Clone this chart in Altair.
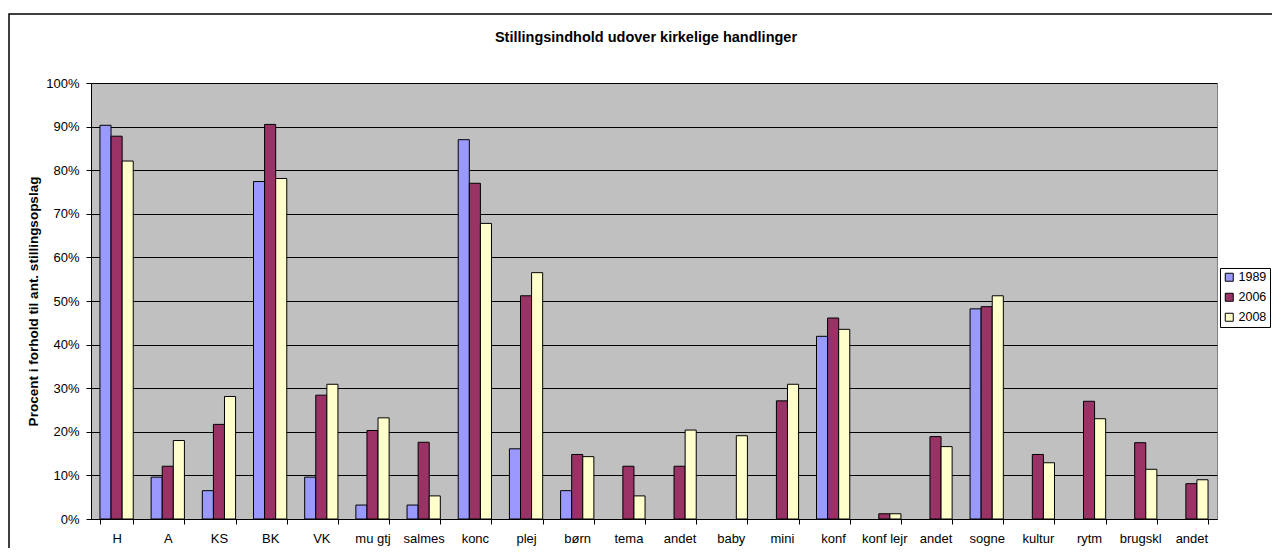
import altair as alt
import pandas as pd

categories = ["H", "A", "KS", "BK", "VK", "mu gtj", "salmes", "konc", "plej", "børn",
              "tema", "andet", "baby", "mini", "konf", "konf lejr", "andet", "sogne",
              "kultur", "rytm", "brugskl", "andet"]
years = ["1989", "2006", "2008"]
v1989 = [0.903, 0.096, 0.065, 0.774, 0.096, 0.032, 0.032, 0.870, 0.161, 0.065,
         None, None, None, None, 0.419, None, None, 0.482,
         None, None, None, None]
v2006 = [0.878, 0.121, 0.217, 0.905, 0.284, 0.203, 0.176, 0.770, 0.512, 0.148,
         0.121, 0.121, None, 0.271, 0.461, 0.012, 0.189, 0.487,
         0.148, 0.270, 0.175, 0.081]
v2008 = [0.821, 0.180, 0.281, 0.781, 0.309, 0.232, 0.053, 0.678, 0.565, 0.143,
         0.053, 0.204, 0.191, 0.309, 0.435, 0.012, 0.166, 0.512,
         0.129, 0.230, 0.114, 0.090]
colors = ["#9999FF", "#993366", "#FFFFCC"]
title_text = "Stillingsindhold udover kirkelige handlinger"

rows = []
for i, c in enumerate(categories):
    for y, vals in zip(years, [v1989, v2006, v2008]):
        if vals[i] is not None:
            rows.append({"idx": i, "label": c, "year": y, "value": vals[i]})
df = pd.DataFrame(rows)

label_expr = "[" + ",".join("'" + c + "'" for c in categories) + "][datum.value]"

FONT = "Liberation Sans"

bars = alt.Chart(df).mark_bar(stroke="black", strokeWidth=1).encode(
    x=alt.X("idx:O",
            scale=alt.Scale(domain=list(range(len(categories))), paddingInner=0.35, paddingOuter=0.175),
            axis=alt.Axis(title=None, labelExpr=label_expr, labelAngle=0, tickBand="extent",
                          tickSize=5, tickColor="black", domainColor="black", labelPadding=8,
                          labelFontSize=13, labelColor="black", labelFont=FONT, grid=False)),
    xOffset=alt.XOffset("year:N", scale=alt.Scale(paddingInner=0, paddingOuter=0)),
    y=alt.Y("value:Q",
            scale=alt.Scale(domain=[0, 1], nice=False),
            axis=alt.Axis(title="Procent i forhold til ant. stillingsopslag", format=".0%",
                          values=[i / 10 for i in range(11)], tickSize=5, tickColor="black",
                          domainColor="black", labelPadding=7, labelFontSize=13, labelColor="black",
                          labelFont=FONT, titleFont=FONT, titleFontSize=13.5, titleFontWeight="bold",
                          titleColor="black", titleX=-51, titlePadding=10,
                          grid=True, gridColor="black", gridWidth=1)),
    color=alt.Color("year:N", scale=alt.Scale(domain=years, range=colors),
                    legend=alt.Legend(title=None, orient="none", legendX=1129, legendY=185,
                                      symbolType="square", symbolSize=64, symbolStrokeColor="black",
                                      symbolStrokeWidth=1, labelFontSize=12.5, labelFont=FONT,
                                      labelColor="black", strokeColor="black", fillColor="white",
                                      padding=3, rowPadding=7, labelOffset=3)),
)

frame = alt.Chart(pd.DataFrame({"a": [0]})).mark_rect(fill=None, stroke="black", strokeWidth=1.5).encode(
    x=alt.value(-82), x2=alt.value(1300), y=alt.value(-69), y2=alt.value(600)
)

title = alt.Chart(pd.DataFrame({"t": [title_text]})).mark_text(
    font=FONT, fontSize=14.5, fontWeight="bold", color="black", align="center", baseline="middle"
).encode(x=alt.value(555), y=alt.value(-45), text="t:N")

chart = alt.layer(bars, frame, title).properties(
    width=1126, height=436,
    autosize=alt.AutoSizeParams(type="none"),
    padding={"left": 83, "top": 75, "right": 55, "bottom": 29},
).configure(background="white").configure_view(
    fill="#C0C0C0", stroke="#808080", strokeWidth=1
)

chart.save("out.html", embed_options={"renderer": "svg", "actions": False})
